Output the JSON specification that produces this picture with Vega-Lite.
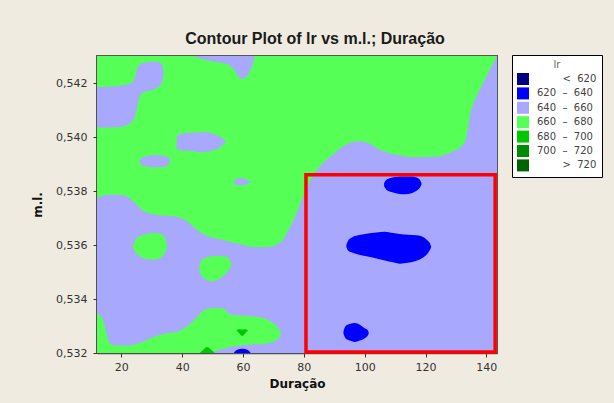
{
  "$schema": "https://vega.github.io/schema/vega-lite/v6.json",
  "width": 400,
  "height": 297,
  "autosize": {"type": "none"},
  "padding": {"left": 97, "top": 56, "right": 117, "bottom": 50},
  "background": "#F0EBE1",
  "title": {
    "text": "Contour Plot of lr vs m.l.; Duração",
    "font": "Liberation Sans",
    "fontSize": 16,
    "fontWeight": "bold",
    "color": "#1a1a1a",
    "anchor": "middle",
    "dx": 18,
    "dy": 18,
    "offset": 13,
    "baseline": "alphabetic"
  },
  "datasets": {
    "field": [
      {"kind": "base", "lr": "640 – 660", "x": 12, "x2": 143.5, "y": 0.532, "y2": 0.543}
    ],
    "region": [
      {"kind": "box", "x": 80.7, "x2": 142.9, "y": 0.53204, "y2": 0.5386}
    ],
    "shapes": [
      {"s": "top", "lv": 1, "lr": "660 – 680", "x": 12, "hi": 0.543, "lo": 0.53775},
      {"s": "top", "lv": 1, "lr": "660 – 680", "x": 15.59, "hi": 0.543, "lo": 0.53786},
      {"s": "top", "lv": 1, "lr": "660 – 680", "x": 20, "hi": 0.543, "lo": 0.53786},
      {"s": "top", "lv": 1, "lr": "660 – 680", "x": 23.29, "hi": 0.543, "lo": 0.53768},
      {"s": "top", "lv": 1, "lr": "660 – 680", "x": 27.66, "hi": 0.543, "lo": 0.53724},
      {"s": "top", "lv": 1, "lr": "660 – 680", "x": 33.16, "hi": 0.543, "lo": 0.53709},
      {"s": "top", "lv": 1, "lr": "660 – 680", "x": 37.53, "hi": 0.543, "lo": 0.53706},
      {"s": "top", "lv": 1, "lr": "660 – 680", "x": 40.82, "hi": 0.543, "lo": 0.53694},
      {"s": "top", "lv": 1, "lr": "660 – 680", "x": 44.11, "hi": 0.543, "lo": 0.53663},
      {"s": "top", "lv": 1, "lr": "660 – 680", "x": 47.40, "hi": 0.543, "lo": 0.53638},
      {"s": "top", "lv": 1, "lr": "660 – 680", "x": 52.89, "hi": 0.543, "lo": 0.53620},
      {"s": "top", "lv": 1, "lr": "660 – 680", "x": 58.36, "hi": 0.543, "lo": 0.53605},
      {"s": "top", "lv": 1, "lr": "660 – 680", "x": 63.85, "hi": 0.543, "lo": 0.53593},
      {"s": "top", "lv": 1, "lr": "660 – 680", "x": 68.22, "hi": 0.543, "lo": 0.53593},
      {"s": "top", "lv": 1, "lr": "660 – 680", "x": 72.63, "hi": 0.543, "lo": 0.53613},
      {"s": "top", "lv": 1, "lr": "660 – 680", "x": 75.36, "hi": 0.543, "lo": 0.53664},
      {"s": "top", "lv": 1, "lr": "660 – 680", "x": 78.09, "hi": 0.543, "lo": 0.53731},
      {"s": "top", "lv": 1, "lr": "660 – 680", "x": 79.74, "hi": 0.543, "lo": 0.53779},
      {"s": "top", "lv": 1, "lr": "660 – 680", "x": 81.28, "hi": 0.543, "lo": 0.53816},
      {"s": "top", "lv": 1, "lr": "660 – 680", "x": 83.03, "hi": 0.543, "lo": 0.53857},
      {"s": "top", "lv": 1, "lr": "660 – 680", "x": 86.32, "hi": 0.543, "lo": 0.53904},
      {"s": "top", "lv": 1, "lr": "660 – 680", "x": 88.52, "hi": 0.543, "lo": 0.53925},
      {"s": "top", "lv": 1, "lr": "660 – 680", "x": 92.89, "hi": 0.543, "lo": 0.53965},
      {"s": "top", "lv": 1, "lr": "660 – 680", "x": 97.83, "hi": 0.543, "lo": 0.53984},
      {"s": "top", "lv": 1, "lr": "660 – 680", "x": 101.68, "hi": 0.543, "lo": 0.53975},
      {"s": "top", "lv": 1, "lr": "660 – 680", "x": 104.97, "hi": 0.543, "lo": 0.53953},
      {"s": "top", "lv": 1, "lr": "660 – 680", "x": 110.46, "hi": 0.543, "lo": 0.53934},
      {"s": "top", "lv": 1, "lr": "660 – 680", "x": 115.92, "hi": 0.543, "lo": 0.53926},
      {"s": "top", "lv": 1, "lr": "660 – 680", "x": 123.62, "hi": 0.543, "lo": 0.53928},
      {"s": "top", "lv": 1, "lr": "660 – 680", "x": 129.08, "hi": 0.543, "lo": 0.53947},
      {"s": "top", "lv": 1, "lr": "660 – 680", "x": 132.37, "hi": 0.543, "lo": 0.53971},
      {"s": "top", "lv": 1, "lr": "660 – 680", "x": 133.49, "hi": 0.543, "lo": 0.54002},
      {"s": "top", "lv": 1, "lr": "660 – 680", "x": 134.57, "hi": 0.543, "lo": 0.54076},
      {"s": "top", "lv": 1, "lr": "660 – 680", "x": 136.78, "hi": 0.543, "lo": 0.54150},
      {"s": "top", "lv": 1, "lr": "660 – 680", "x": 138.95, "hi": 0.543, "lo": 0.54200},
      {"s": "top", "lv": 1, "lr": "660 – 680", "x": 141.15, "hi": 0.543, "lo": 0.54249},
      {"s": "top", "lv": 1, "lr": "660 – 680", "x": 143.5, "hi": 0.543, "lo": 0.543},

      {"s": "F", "lv": 1, "lr": "660 – 680", "x": 23.83, "hi": 0.53595, "lo": 0.53589},
      {"s": "F", "lv": 1, "lr": "660 – 680", "x": 24.70, "hi": 0.53620, "lo": 0.53573},
      {"s": "F", "lv": 1, "lr": "660 – 680", "x": 26.02, "hi": 0.53632, "lo": 0.53558},
      {"s": "F", "lv": 1, "lr": "660 – 680", "x": 28.21, "hi": 0.53641, "lo": 0.53548},
      {"s": "F", "lv": 1, "lr": "660 – 680", "x": 30.95, "hi": 0.53644, "lo": 0.53546},
      {"s": "F", "lv": 1, "lr": "660 – 680", "x": 33.15, "hi": 0.53641, "lo": 0.53555},
      {"s": "F", "lv": 1, "lr": "660 – 680", "x": 34.46, "hi": 0.53626, "lo": 0.53573},
      {"s": "F", "lv": 1, "lr": "660 – 680", "x": 35.01, "hi": 0.53601, "lo": 0.53597},

      {"s": "G", "lv": 1, "lr": "660 – 680", "x": 45.65, "hi": 0.53521, "lo": 0.53509},
      {"s": "G", "lv": 1, "lr": "660 – 680", "x": 46.31, "hi": 0.53542, "lo": 0.53486},
      {"s": "G", "lv": 1, "lr": "660 – 680", "x": 47.95, "hi": 0.53554, "lo": 0.53472},
      {"s": "G", "lv": 1, "lr": "660 – 680", "x": 49.60, "hi": 0.53558, "lo": 0.53465},
      {"s": "G", "lv": 1, "lr": "660 – 680", "x": 51.79, "hi": 0.53560, "lo": 0.53472},
      {"s": "G", "lv": 1, "lr": "660 – 680", "x": 53.98, "hi": 0.53558, "lo": 0.53490},
      {"s": "G", "lv": 1, "lr": "660 – 680", "x": 55.40, "hi": 0.53548, "lo": 0.53509},
      {"s": "G", "lv": 1, "lr": "660 – 680", "x": 56.28, "hi": 0.53531, "lo": 0.53526},

      {"s": "H", "lv": 1, "lr": "660 – 680", "x": 12, "hi": 0.53348, "lo": 0.532},
      {"s": "H", "lv": 1, "lr": "660 – 680", "x": 13.95, "hi": 0.53323, "lo": 0.532},
      {"s": "H", "lv": 1, "lr": "660 – 680", "x": 15.07, "hi": 0.53274, "lo": 0.532},
      {"s": "H", "lv": 1, "lr": "660 – 680", "x": 16.15, "hi": 0.53237, "lo": 0.532},
      {"s": "H", "lv": 1, "lr": "660 – 680", "x": 17.80, "hi": 0.53228, "lo": 0.532},
      {"s": "H", "lv": 1, "lr": "660 – 680", "x": 22.17, "hi": 0.53228, "lo": 0.532},
      {"s": "H", "lv": 1, "lr": "660 – 680", "x": 26.58, "hi": 0.53239, "lo": 0.532},
      {"s": "H", "lv": 1, "lr": "660 – 680", "x": 30.95, "hi": 0.53261, "lo": 0.532},
      {"s": "H", "lv": 1, "lr": "660 – 680", "x": 35.33, "hi": 0.53274, "lo": 0.532},
      {"s": "H", "lv": 1, "lr": "660 – 680", "x": 38.62, "hi": 0.53280, "lo": 0.532},
      {"s": "H", "lv": 1, "lr": "660 – 680", "x": 40.82, "hi": 0.53293, "lo": 0.532},
      {"s": "H", "lv": 1, "lr": "660 – 680", "x": 44.11, "hi": 0.53323, "lo": 0.532},
      {"s": "H", "lv": 1, "lr": "660 – 680", "x": 47.40, "hi": 0.53360, "lo": 0.532},
      {"s": "H", "lv": 1, "lr": "660 – 680", "x": 50.13, "hi": 0.53367, "lo": 0.53205},
      {"s": "H", "lv": 1, "lr": "660 – 680", "x": 52.89, "hi": 0.53367, "lo": 0.53214},
      {"s": "H", "lv": 1, "lr": "660 – 680", "x": 56.18, "hi": 0.53342, "lo": 0.53223},
      {"s": "H", "lv": 1, "lr": "660 – 680", "x": 61.12, "hi": 0.53338, "lo": 0.53231},
      {"s": "H", "lv": 1, "lr": "660 – 680", "x": 66.58, "hi": 0.53330, "lo": 0.53234},
      {"s": "H", "lv": 1, "lr": "660 – 680", "x": 69.87, "hi": 0.53311, "lo": 0.53242},
      {"s": "H", "lv": 1, "lr": "660 – 680", "x": 71.74, "hi": 0.53290, "lo": 0.53255},
      {"s": "H", "lv": 1, "lr": "660 – 680", "x": 72.57, "hi": 0.53271, "lo": 0.53271},

      {"s": "A", "lv": 2, "lr": "640 – 660", "x": 12, "hi": 0.54185, "lo": 0.54036},
      {"s": "A", "lv": 2, "lr": "640 – 660", "x": 15.06, "hi": 0.54186, "lo": 0.54034},
      {"s": "A", "lv": 2, "lr": "640 – 660", "x": 19.44, "hi": 0.54190, "lo": 0.54037},
      {"s": "A", "lv": 2, "lr": "640 – 660", "x": 22.18, "hi": 0.54195, "lo": 0.54046},
      {"s": "A", "lv": 2, "lr": "640 – 660", "x": 23.83, "hi": 0.54206, "lo": 0.54062},
      {"s": "A", "lv": 2, "lr": "640 – 660", "x": 24.70, "hi": 0.54231, "lo": 0.54083},
      {"s": "A", "lv": 2, "lr": "640 – 660", "x": 25.25, "hi": 0.54255, "lo": 0.54113},
      {"s": "A", "lv": 2, "lr": "640 – 660", "x": 26.02, "hi": 0.54268, "lo": 0.54150},
      {"s": "A", "lv": 2, "lr": "640 – 660", "x": 27.12, "hi": 0.54274, "lo": 0.54165},
      {"s": "A", "lv": 2, "lr": "640 – 660", "x": 28.76, "hi": 0.54278, "lo": 0.54170},
      {"s": "A", "lv": 2, "lr": "640 – 660", "x": 30.40, "hi": 0.54280, "lo": 0.54175},
      {"s": "A", "lv": 2, "lr": "640 – 660", "x": 32.05, "hi": 0.54278, "lo": 0.54185},
      {"s": "A", "lv": 2, "lr": "640 – 660", "x": 33.15, "hi": 0.54271, "lo": 0.54197},
      {"s": "A", "lv": 2, "lr": "640 – 660", "x": 33.69, "hi": 0.54259, "lo": 0.54215},
      {"s": "A", "lv": 2, "lr": "640 – 660", "x": 33.91, "hi": 0.54237, "lo": 0.54237},

      {"s": "B", "lv": 2, "lr": "640 – 660", "x": 43.56, "hi": 0.543, "lo": 0.543},
      {"s": "B", "lv": 2, "lr": "640 – 660", "x": 45.76, "hi": 0.543, "lo": 0.54292},
      {"s": "B", "lv": 2, "lr": "640 – 660", "x": 50.14, "hi": 0.543, "lo": 0.54280},
      {"s": "B", "lv": 2, "lr": "640 – 660", "x": 54.53, "hi": 0.543, "lo": 0.54271},
      {"s": "B", "lv": 2, "lr": "640 – 660", "x": 56.72, "hi": 0.543, "lo": 0.54255},
      {"s": "B", "lv": 2, "lr": "640 – 660", "x": 58.15, "hi": 0.543, "lo": 0.54231},
      {"s": "B", "lv": 2, "lr": "640 – 660", "x": 59.24, "hi": 0.543, "lo": 0.54215},
      {"s": "B", "lv": 2, "lr": "640 – 660", "x": 60.56, "hi": 0.543, "lo": 0.54218},
      {"s": "B", "lv": 2, "lr": "640 – 660", "x": 61.88, "hi": 0.543, "lo": 0.54237},
      {"s": "B", "lv": 2, "lr": "640 – 660", "x": 62.97, "hi": 0.543, "lo": 0.54262},
      {"s": "B", "lv": 2, "lr": "640 – 660", "x": 63.85, "hi": 0.543, "lo": 0.543},

      {"s": "C", "lv": 2, "lr": "640 – 660", "x": 38.19, "hi": 0.54000, "lo": 0.53955},
      {"s": "C", "lv": 2, "lr": "640 – 660", "x": 39.18, "hi": 0.54011, "lo": 0.53952},
      {"s": "C", "lv": 2, "lr": "640 – 660", "x": 42.47, "hi": 0.54016, "lo": 0.53949},
      {"s": "C", "lv": 2, "lr": "640 – 660", "x": 45.76, "hi": 0.54018, "lo": 0.53944},
      {"s": "C", "lv": 2, "lr": "640 – 660", "x": 47.95, "hi": 0.54018, "lo": 0.53945},
      {"s": "C", "lv": 2, "lr": "640 – 660", "x": 50.14, "hi": 0.54012, "lo": 0.53950},
      {"s": "C", "lv": 2, "lr": "640 – 660", "x": 52.34, "hi": 0.54002, "lo": 0.53962},
      {"s": "C", "lv": 2, "lr": "640 – 660", "x": 53.65, "hi": 0.53992, "lo": 0.53973},
      {"s": "C", "lv": 2, "lr": "640 – 660", "x": 54.31, "hi": 0.53983, "lo": 0.53983},

      {"s": "D", "lv": 2, "lr": "640 – 660", "x": 25.91, "hi": 0.53910, "lo": 0.53910},
      {"s": "D", "lv": 2, "lr": "640 – 660", "x": 26.57, "hi": 0.53922, "lo": 0.53897},
      {"s": "D", "lv": 2, "lr": "640 – 660", "x": 28.21, "hi": 0.53928, "lo": 0.53891},
      {"s": "D", "lv": 2, "lr": "640 – 660", "x": 30.95, "hi": 0.53933, "lo": 0.53888},
      {"s": "D", "lv": 2, "lr": "640 – 660", "x": 33.69, "hi": 0.53931, "lo": 0.53889},
      {"s": "D", "lv": 2, "lr": "640 – 660", "x": 35.34, "hi": 0.53926, "lo": 0.53897},
      {"s": "D", "lv": 2, "lr": "640 – 660", "x": 36.00, "hi": 0.53912, "lo": 0.53909},

      {"s": "E", "lv": 2, "lr": "640 – 660", "x": 56.72, "hi": 0.53833, "lo": 0.53833},
      {"s": "E", "lv": 2, "lr": "640 – 660", "x": 57.82, "hi": 0.53844, "lo": 0.53823},
      {"s": "E", "lv": 2, "lr": "640 – 660", "x": 59.46, "hi": 0.53848, "lo": 0.53821},
      {"s": "E", "lv": 2, "lr": "640 – 660", "x": 61.10, "hi": 0.53842, "lo": 0.53825},
      {"s": "E", "lv": 2, "lr": "640 – 660", "x": 62.75, "hi": 0.53832, "lo": 0.53832},

      {"s": "I", "lv": 3, "lr": "680 – 700", "x": 57.84, "hi": 0.53283, "lo": 0.53283},
      {"s": "I", "lv": 3, "lr": "680 – 700", "x": 58.60, "hi": 0.53288, "lo": 0.53275},
      {"s": "I", "lv": 3, "lr": "680 – 700", "x": 59.74, "hi": 0.53287, "lo": 0.53263},
      {"s": "I", "lv": 3, "lr": "680 – 700", "x": 60.89, "hi": 0.53288, "lo": 0.53275},
      {"s": "I", "lv": 3, "lr": "680 – 700", "x": 61.64, "hi": 0.53283, "lo": 0.53283},

      {"s": "J", "lv": 3, "lr": "680 – 700", "x": 45.76, "hi": 0.532, "lo": 0.532},
      {"s": "J", "lv": 3, "lr": "680 – 700", "x": 46.74, "hi": 0.53210, "lo": 0.532},
      {"s": "J", "lv": 3, "lr": "680 – 700", "x": 48.22, "hi": 0.53222, "lo": 0.532},
      {"s": "J", "lv": 3, "lr": "680 – 700", "x": 49.70, "hi": 0.53210, "lo": 0.532},
      {"s": "J", "lv": 3, "lr": "680 – 700", "x": 50.69, "hi": 0.532, "lo": 0.532},

      {"s": "K", "lv": 3, "lr": "620 – 640", "x": 56.94, "hi": 0.532, "lo": 0.532},
      {"s": "K", "lv": 3, "lr": "620 – 640", "x": 57.93, "hi": 0.53211, "lo": 0.532},
      {"s": "K", "lv": 3, "lr": "620 – 640", "x": 59.74, "hi": 0.53216, "lo": 0.532},
      {"s": "K", "lv": 3, "lr": "620 – 640", "x": 61.55, "hi": 0.53211, "lo": 0.532},
      {"s": "K", "lv": 3, "lr": "620 – 640", "x": 62.53, "hi": 0.532, "lo": 0.532},

      {"s": "L", "lv": 3, "lr": "620 – 640", "x": 106.39, "hi": 0.53830, "lo": 0.53817},
      {"s": "L", "lv": 3, "lr": "620 – 640", "x": 107.16, "hi": 0.53842, "lo": 0.53805},
      {"s": "L", "lv": 3, "lr": "620 – 640", "x": 108.81, "hi": 0.53849, "lo": 0.53796},
      {"s": "L", "lv": 3, "lr": "620 – 640", "x": 111.00, "hi": 0.53853, "lo": 0.53790},
      {"s": "L", "lv": 3, "lr": "620 – 640", "x": 113.19, "hi": 0.53854, "lo": 0.53788},
      {"s": "L", "lv": 3, "lr": "620 – 640", "x": 115.38, "hi": 0.53854, "lo": 0.53792},
      {"s": "L", "lv": 3, "lr": "620 – 640", "x": 117.03, "hi": 0.53850, "lo": 0.53801},
      {"s": "L", "lv": 3, "lr": "620 – 640", "x": 118.13, "hi": 0.53842, "lo": 0.53812},
      {"s": "L", "lv": 3, "lr": "620 – 640", "x": 118.67, "hi": 0.53830, "lo": 0.53823},

      {"s": "M", "lv": 3, "lr": "620 – 640", "x": 94.00, "hi": 0.53601, "lo": 0.53592},
      {"s": "M", "lv": 3, "lr": "620 – 640", "x": 94.55, "hi": 0.53616, "lo": 0.53580},
      {"s": "M", "lv": 3, "lr": "620 – 640", "x": 95.65, "hi": 0.53627, "lo": 0.53573},
      {"s": "M", "lv": 3, "lr": "620 – 640", "x": 97.84, "hi": 0.53636, "lo": 0.53565},
      {"s": "M", "lv": 3, "lr": "620 – 640", "x": 100.58, "hi": 0.53642, "lo": 0.53558},
      {"s": "M", "lv": 3, "lr": "620 – 640", "x": 103.87, "hi": 0.53646, "lo": 0.53550},
      {"s": "M", "lv": 3, "lr": "620 – 640", "x": 106.61, "hi": 0.53649, "lo": 0.53543},
      {"s": "M", "lv": 3, "lr": "620 – 640", "x": 109.35, "hi": 0.53644, "lo": 0.53536},
      {"s": "M", "lv": 3, "lr": "620 – 640", "x": 111.55, "hi": 0.53641, "lo": 0.53531},
      {"s": "M", "lv": 3, "lr": "620 – 640", "x": 114.29, "hi": 0.53638, "lo": 0.53534},
      {"s": "M", "lv": 3, "lr": "620 – 640", "x": 117.03, "hi": 0.53636, "lo": 0.53542},
      {"s": "M", "lv": 3, "lr": "620 – 640", "x": 119.22, "hi": 0.53630, "lo": 0.53554},
      {"s": "M", "lv": 3, "lr": "620 – 640", "x": 120.65, "hi": 0.53617, "lo": 0.53568},
      {"s": "M", "lv": 3, "lr": "620 – 640", "x": 121.52, "hi": 0.53605, "lo": 0.53583},
      {"s": "M", "lv": 3, "lr": "620 – 640", "x": 121.85, "hi": 0.53594, "lo": 0.53591},

      {"s": "N", "lv": 3, "lr": "620 – 640", "x": 93.02, "hi": 0.53280, "lo": 0.53271},
      {"s": "N", "lv": 3, "lr": "620 – 640", "x": 93.68, "hi": 0.53299, "lo": 0.53255},
      {"s": "N", "lv": 3, "lr": "620 – 640", "x": 95.10, "hi": 0.53307, "lo": 0.53246},
      {"s": "N", "lv": 3, "lr": "620 – 640", "x": 96.74, "hi": 0.53311, "lo": 0.53241},
      {"s": "N", "lv": 3, "lr": "620 – 640", "x": 98.39, "hi": 0.53305, "lo": 0.53246},
      {"s": "N", "lv": 3, "lr": "620 – 640", "x": 100.03, "hi": 0.53292, "lo": 0.53255},
      {"s": "N", "lv": 3, "lr": "620 – 640", "x": 101.02, "hi": 0.53284, "lo": 0.53265},
      {"s": "N", "lv": 3, "lr": "620 – 640", "x": 101.35, "hi": 0.53275, "lo": 0.53273}
    ]
  },
  "layer": [
    {
      "data": {"name": "field"},
      "mark": {"type": "rect", "opacity": 1},
      "encoding": {
        "x": {"field": "x", "type": "quantitative", "scale": {"domain": [12, 143.5], "zero": false, "nice": false}, "title": "Duração",
              "axis": {"values": [20, 40, 60, 80, 100, 120, 140], "labelPadding": 4, "titlePadding": 6}},
        "x2": {"field": "x2"},
        "y": {"field": "y", "type": "quantitative", "scale": {"domain": [0.532, 0.543], "zero": false, "nice": false}, "title": "m.l.",
              "axis": {"values": [0.532, 0.534, 0.536, 0.538, 0.540, 0.542], "labelExpr": "replace(format(datum.value, '.3f'), '.', ',')", "labelPadding": 6, "titlePadding": 11}},
        "y2": {"field": "y2"},
        "color": {
          "field": "lr", "type": "nominal",
          "scale": {
            "domain": ["< 620", "620 – 640", "640 – 660", "660 – 680", "680 – 700", "700 – 720", "> 720"],
            "range": ["#000080", "#0000FF", "#A8A8FF", "#55FF55", "#00C800", "#008C00", "#006400"]
          },
          "legend": {
            "title": "lr",
            "orient": "none",
            "legendX": 415,
            "legendY": -1,
            "symbolType": "square",
            "symbolSize": 144,
            "symbolStrokeWidth": 0,
            "symbolOpacity": 1,
            "rowPadding": 2.4,
            "labelOffset": 8,
            "padding": 5,
            "strokeColor": "#000000",
            "fillColor": "#FFFFFF",
            "titleFont": "DejaVu Sans",
            "titleFontSize": 10,
            "titleFontWeight": "normal",
            "titleColor": "#666666",
            "titleAnchor": "middle",
            "titlePadding": 3,
            "labelFont": "DejaVu Sans",
            "labelFontSize": 10,
            "labelColor": "#444444",
            "labelExpr": "(datum.label == '< 620' || datum.label == '> 720' ? '\u200b\u00a0\u00a0\u00a0\u00a0\u00a0\u00a0\u00a0\u00a0' : '') + replace(replace(datum.label, ' ', '\u00a0\u00a0'), ' ', '\u00a0\u00a0')"
          }
        }
      }
    },
    {
      "data": {"name": "shapes"},
      "transform": [{"filter": "datum.lv == 1"}],
      "mark": {"type": "area", "interpolate": "monotone", "opacity": 1},
      "encoding": {
        "x": {"field": "x", "type": "quantitative"},
        "y": {"field": "hi", "type": "quantitative"},
        "y2": {"field": "lo"},
        "detail": {"field": "s"},
        "color": {"field": "lr", "type": "nominal"}
      }
    },
    {
      "data": {"name": "shapes"},
      "transform": [{"filter": "datum.lv == 2"}],
      "mark": {"type": "area", "interpolate": "monotone", "opacity": 1},
      "encoding": {
        "x": {"field": "x", "type": "quantitative"},
        "y": {"field": "hi", "type": "quantitative"},
        "y2": {"field": "lo"},
        "detail": {"field": "s"},
        "color": {"field": "lr", "type": "nominal"}
      }
    },
    {
      "data": {"name": "shapes"},
      "transform": [{"filter": "datum.lv == 3"}],
      "mark": {"type": "area", "interpolate": "monotone", "opacity": 1},
      "encoding": {
        "x": {"field": "x", "type": "quantitative"},
        "y": {"field": "hi", "type": "quantitative"},
        "y2": {"field": "lo"},
        "detail": {"field": "s"},
        "color": {"field": "lr", "type": "nominal"}
      }
    },
    {
      "data": {"name": "region"},
      "mark": {"type": "rect", "filled": false, "stroke": "#FF0000", "strokeWidth": 3.5, "clip": false},
      "encoding": {
        "x": {"field": "x", "type": "quantitative"},
        "x2": {"field": "x2"},
        "y": {"field": "y", "type": "quantitative"},
        "y2": {"field": "y2"}
      }
    }
  ],
  "config": {
    "view": {"stroke": "#555555", "strokeWidth": 2},
    "axis": {
      "grid": false,
      "domain": true,
      "domainColor": "#4d4d4d",
      "domainWidth": 1.5,
      "tickColor": "#333333",
      "tickSize": 4,
      "tickWidth": 1,
      "labelFont": "DejaVu Sans",
      "labelFontSize": 11,
      "labelColor": "#333333",
      "titleFont": "DejaVu Sans",
      "titleFontSize": 12,
      "titleFontWeight": "bold",
      "titleColor": "#111111",
      "zindex": 1
    }
  }
}
